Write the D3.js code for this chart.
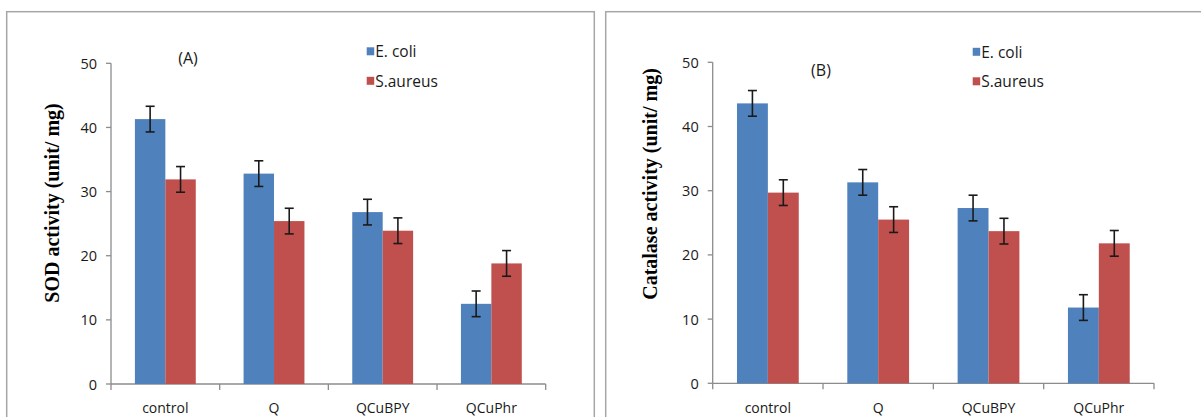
<!DOCTYPE html>
<html>
<head>
<meta charset="utf-8">
<script src="https://cdn.jsdelivr.net/npm/d3@7/dist/d3.min.js"></script>
<style>
  html, body { margin: 0; padding: 0; background: #fff; }
  svg { display: block; }
</style>
</head>
<body>
<svg id="chart" width="1201" height="417"></svg>
<script>
// Enzyme activity in E. coli and S. aureus after treatment
const categories = ["control", "Q", "QCuBPY", "QCuPhr"];
const seriesNames = ["E. coli", "S.aureus"];
const yTicks = [0, 10, 20, 30, 40, 50];

// (A) SOD activity, unit/ mg
const sodEcoli = [41.3, 32.8, 26.8, 12.5];
const sodSaureus = [31.9, 25.4, 23.9, 18.8];
const sodEcoliErr = [2, 2, 2, 2];
const sodSaureusErr = [2, 2, 2, 2];

// (B) Catalase activity, unit/ mg
const catEcoli = [43.6, 31.3, 27.3, 11.8];
const catSaureus = [29.7, 25.5, 23.7, 21.8];
const catEcoliErr = [2, 2, 2, 2];
const catSaureusErr = [2, 2, 2, 2];

const colors = ["#4f81bd", "#c0504d"];
const axisColor = "#8c8c8c";
const textColor = "#1a1a1a";
const tickFont = "'Open Sans', sans-serif";

const svg = d3.select("#chart");

// panel frames
svg.append("rect").attr("x", 6.7).attr("y", 11.7).attr("width", 587.6).attr("height", 420)
  .attr("fill", "none").attr("stroke", "#a6a6a6").attr("stroke-width", 1.5);
svg.append("rect").attr("x", 605.7).attr("y", 11.7).attr("width", 620).attr("height", 420)
  .attr("fill", "none").attr("stroke", "#a6a6a6").attr("stroke-width", 1.5);

function drawPanel(cfg) {
  const g = svg.append("g");
  const x = d3.scaleBand().domain(categories)
    .range([cfg.x0, cfg.x1]).paddingInner(0.44).paddingOuter(0.22);
  const xs = d3.scaleBand().domain(seriesNames).range([0, x.bandwidth()]);
  const y = d3.scaleLinear().domain([0, 50]).range([cfg.yBase, cfg.yTop]);

  // y axis
  g.append("line").attr("x1", cfg.x0).attr("x2", cfg.x0)
    .attr("y1", y(0)).attr("y2", y(50)).attr("stroke", axisColor).attr("stroke-width", 1.3);
  yTicks.forEach(t => {
    g.append("line").attr("x1", cfg.x0 - 5).attr("x2", cfg.x0)
      .attr("y1", y(t)).attr("y2", y(t)).attr("stroke", axisColor).attr("stroke-width", 1.3);
    g.append("text").attr("x", cfg.x0 - 14).attr("y", y(t))
      .attr("text-anchor", "end").attr("dominant-baseline", "central")
      .attr("font-family", tickFont).attr("font-size", 14.5).attr("fill", textColor)
      .text(t);
  });

  // x axis with boundary ticks
  g.append("line").attr("x1", cfg.x0).attr("x2", cfg.x1)
    .attr("y1", y(0)).attr("y2", y(0)).attr("stroke", axisColor).attr("stroke-width", 1.3);
  d3.range(categories.length + 1).forEach(i => {
    const bx = cfg.x0 + i * x.step();
    g.append("line").attr("x1", bx).attr("x2", bx)
      .attr("y1", y(0)).attr("y2", y(0) + 6).attr("stroke", axisColor).attr("stroke-width", 1.3);
  });
  categories.forEach(c => {
    g.append("text").attr("x", x(c) + x.bandwidth() / 2).attr("y", 413)
      .attr("text-anchor", "middle")
      .attr("font-family", tickFont).attr("font-size", 14).attr("fill", textColor)
      .text(c);
  });

  // bars and error bars
  cfg.values.forEach((vals, si) => {
    const s = seriesNames[si];
    vals.forEach((v, ci) => {
      const c = categories[ci];
      const bx = x(c) + xs(s);
      g.append("rect").attr("x", bx).attr("y", y(v))
        .attr("width", xs.bandwidth()).attr("height", y(0) - y(v))
        .attr("fill", colors[si]);
      const e = cfg.errors[si][ci];
      const cx = bx + xs.bandwidth() / 2;
      const ep = g.append("g").attr("stroke", "#1a1a1a").attr("stroke-width", 1.6);
      ep.append("line").attr("x1", cx).attr("x2", cx).attr("y1", y(v + e)).attr("y2", y(v - e));
      ep.append("line").attr("x1", cx - 4.5).attr("x2", cx + 4.5).attr("y1", y(v + e)).attr("y2", y(v + e));
      ep.append("line").attr("x1", cx - 4.5).attr("x2", cx + 4.5).attr("y1", y(v - e)).attr("y2", y(v - e));
    });
  });

  // y axis title
  g.append("text")
    .attr("transform", `translate(${cfg.titleX},${cfg.titleY}) rotate(-90)`)
    .attr("text-anchor", "middle").attr("dominant-baseline", "central")
    .attr("font-family", "'Liberation Serif', 'Times New Roman', serif")
    .attr("font-weight", "bold").attr("font-size", 20).attr("fill", "#000")
    .text(cfg.title);

  // panel letter
  g.append("text").attr("x", cfg.letterX).attr("y", cfg.letterY)
    .attr("text-anchor", "middle").attr("dominant-baseline", "central")
    .attr("font-family", tickFont).attr("font-size", 16).attr("fill", textColor)
    .text(cfg.letter);

  // legend
  seriesNames.forEach((s, i) => {
    const ly = cfg.legendY + i * 29.5;
    g.append("rect").attr("x", cfg.legendX).attr("y", ly - 4)
      .attr("width", 7.5).attr("height", 8).attr("fill", colors[i]);
    g.append("text").attr("x", cfg.legendX + 8.5).attr("y", ly)
      .attr("dominant-baseline", "central")
      .attr("font-family", tickFont).attr("font-size", 15.5).attr("fill", textColor)
      .text(s);
  });
}

drawPanel({
  x0: 111, x1: 545.7, yBase: 384, yTop: 63.3,
  values: [sodEcoli, sodSaureus], errors: [sodEcoliErr, sodSaureusErr],
  title: "SOD activity (unit/ mg)", titleX: 52, titleY: 203,
  letter: "(A)", letterX: 188, letterY: 58,
  legendX: 366.7, legendY: 51.3
});

drawPanel({
  x0: 712.7, x1: 1154, yBase: 383.3, yTop: 62.3,
  values: [catEcoli, catSaureus], errors: [catEcoliErr, catSaureusErr],
  title: "Catalase activity (unit/ mg)", titleX: 650, titleY: 184,
  letter: "(B)", letterX: 821, letterY: 69.5,
  legendX: 972.7, legendY: 51.8
});
</script>
</body>
</html>
